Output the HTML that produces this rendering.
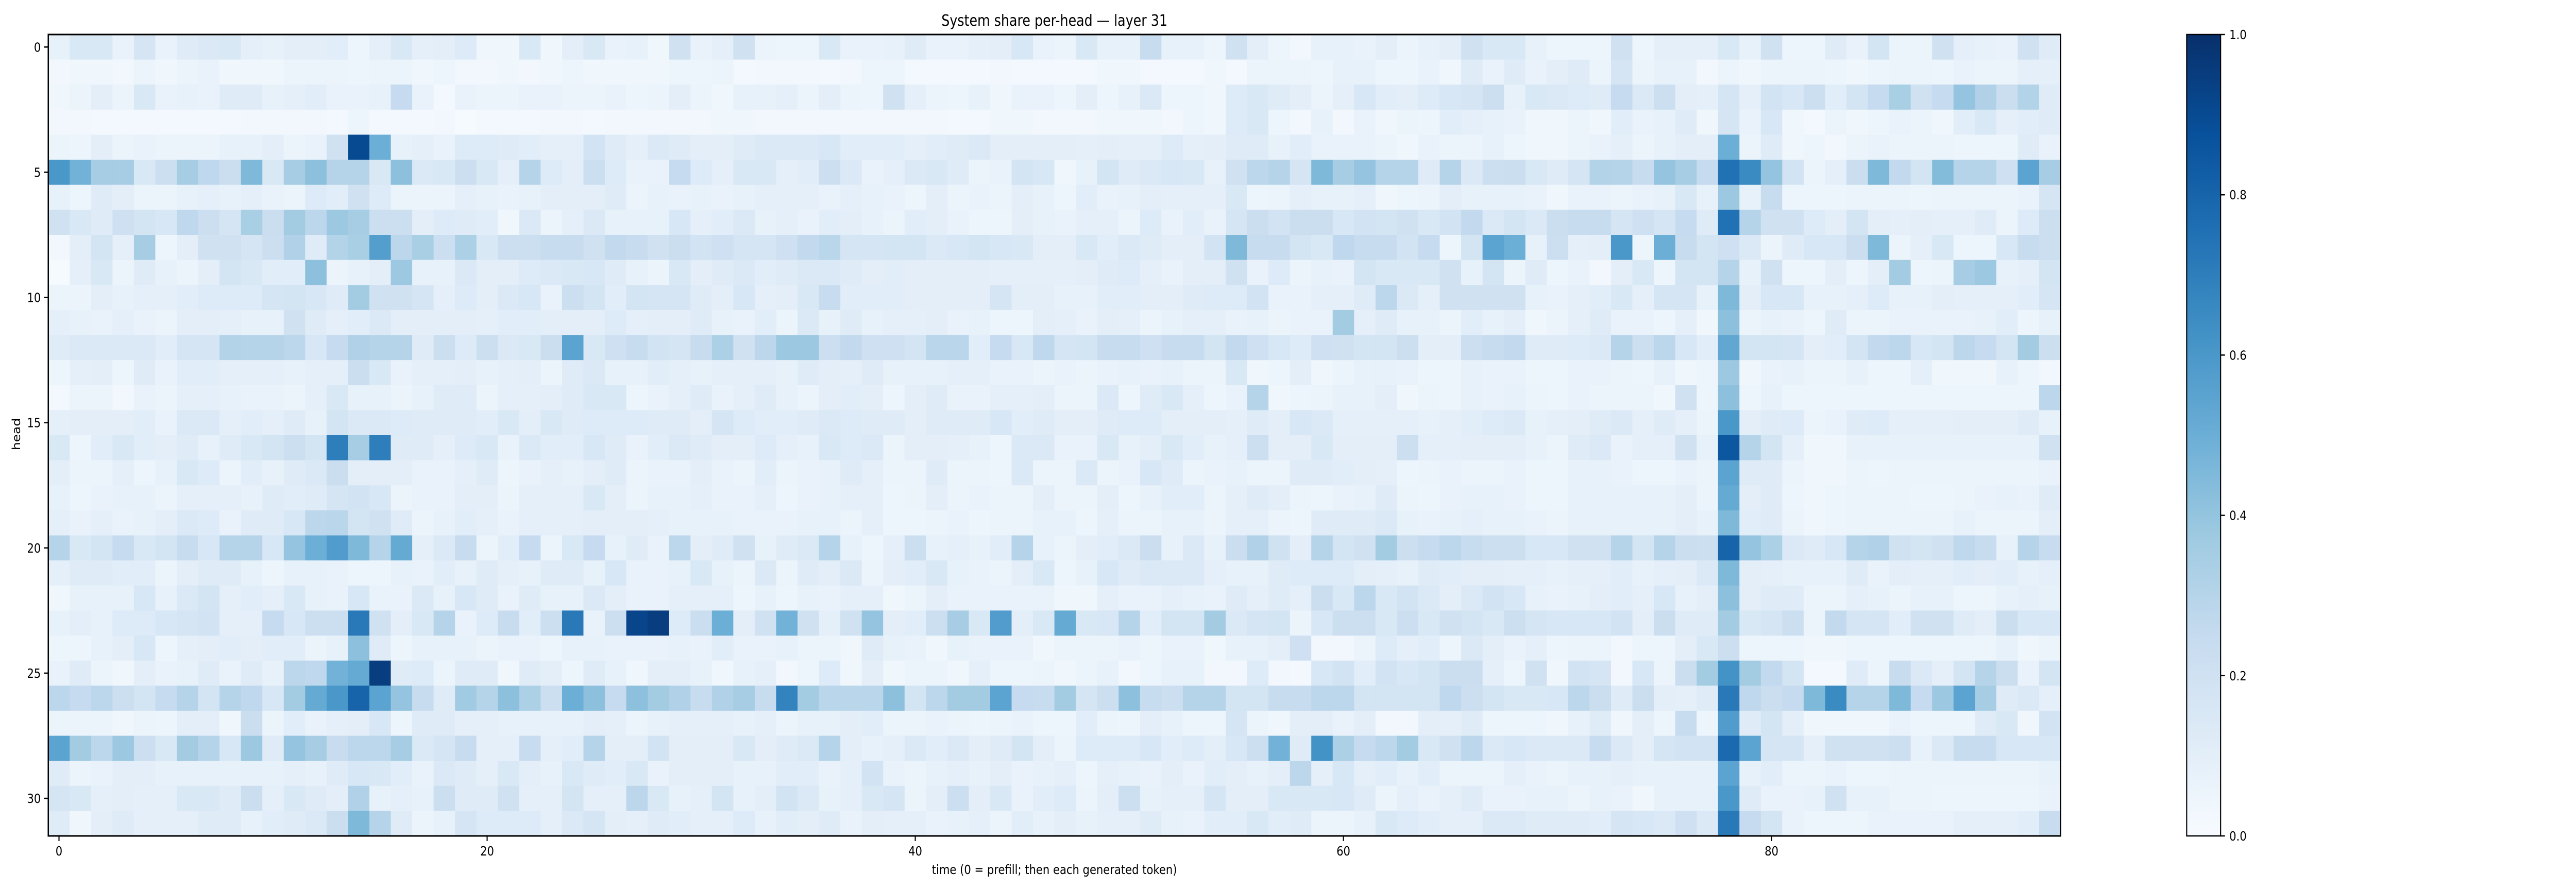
<!DOCTYPE html>
<html>
<head>
<meta charset="utf-8">
<style>
  html,body{margin:0;padding:0;background:#fff;width:100%;height:100%;overflow:hidden;}
  svg{display:block;width:100vw;height:100vh;font-family:"DejaVu Sans","Liberation Sans",sans-serif;}
</style>
</head>
<body>
<svg id="chart" viewBox="0 0 5922 1728" preserveAspectRatio="none" xmlns="http://www.w3.org/2000/svg">
  <defs>
    <linearGradient id="bluesGrad" x1="0" y1="1" x2="0" y2="0">
      <stop offset="0" stop-color="#f7fbff"/>
      <stop offset="0.125" stop-color="#deebf7"/>
      <stop offset="0.25" stop-color="#c6dbef"/>
      <stop offset="0.375" stop-color="#9ecae1"/>
      <stop offset="0.5" stop-color="#6baed6"/>
      <stop offset="0.625" stop-color="#4292c6"/>
      <stop offset="0.75" stop-color="#2171b5"/>
      <stop offset="0.875" stop-color="#08519c"/>
      <stop offset="1" stop-color="#08306b"/>
    </linearGradient>
  </defs>
  <text x="2424" y="50" text-anchor="middle" font-size="30" fill="#000">System share per-head — layer 31</text>
  <g id="cells"></g>
  <rect x="111" y="67" width="4626" height="1556" fill="none" stroke="#000" stroke-width="3"/>
  <g id="xaxis"></g>
  <g id="yaxis"></g>
  <text x="2424" y="1697" text-anchor="middle" font-size="25" fill="#000">time (0 = prefill; then each generated token)</text>
  <text transform="translate(46,843) rotate(-90)" text-anchor="middle" font-size="25" fill="#000">head</text>
  <rect x="5027" y="67" width="78" height="1556" fill="url(#bluesGrad)" stroke="#000" stroke-width="2.5"/>
  <g id="cbaxis"></g>
</svg>
<script>
// values in hundredths (0..100), one array per head row, columns = time 0..93
const head00 = [8,15,15,7,17,7,12,14,15,9,8,10,10,11,5,9,15,9,10,13,4,4,15,4,10,15,7,8,4,20,7,9, 20,6,5,5,15,7,7,8,12,7,7,9,10,16,7,6,15,8,8,24,8,8,5,20,10,5,3,8,8,7,10,6, 8,10,20,15,15,8,5,5,5,20,5,9,9,9,15,8,20,5,5,12,7,18,6,6,20,9,8,7,20,12];
const head01 = [3,4,4,3,6,4,6,7,4,4,4,6,6,6,5,6,6,4,5,3,3,4,3,4,5,4,4,4,4,5,5,6, 2,3,3,3,2,3,5,5,2,2,2,2,3,2,2,2,2,4,4,2,2,2,4,2,6,6,6,5,8,8,5,5, 7,4,12,7,12,7,10,12,6,17,6,8,8,3,6,4,6,6,6,5,4,5,6,6,5,7,6,6,9,9];
const head02 = [4,6,10,6,15,7,8,7,12,12,8,9,11,7,7,8,25,7,2,7,6,6,7,7,6,6,7,5,6,10,6,4, 8,8,9,6,10,6,5,20,9,6,5,8,4,7,7,5,10,5,8,14,5,5,4,13,15,12,10,6,9,16,11,10, 13,16,17,22,8,15,14,13,12,25,14,22,10,9,17,9,19,16,22,11,18,25,34,20,25,40,32,23,31,12];
const head03 = [3,3,2,2,2,2,2,2,2,3,3,3,3,2,5,2,2,2,3,1,2,2,2,3,3,2,3,3,3,3,3,4, 4,3,3,3,3,3,3,3,3,3,2,2,4,4,3,3,3,4,4,4,3,5,4,13,15,5,3,8,3,7,4,6, 5,11,9,8,7,4,4,6,4,11,7,8,12,4,17,7,16,4,2,6,4,5,7,6,4,11,15,9,11,12];
const head04 = [6,5,10,6,7,6,6,6,8,8,10,6,7,20,90,50,8,9,7,13,13,12,11,9,9,19,12,9,14,12,10,10, 12,14,14,14,16,11,11,11,9,11,12,14,10,10,10,10,9,10,9,9,13,9,10,12,12,8,11,7,7,7,6,4, 7,6,6,8,5,4,4,6,7,9,6,8,10,10,50,6,12,4,5,3,6,7,6,6,6,5,5,5,12,7];
const head05 = [60,48,35,35,15,22,35,27,23,45,15,35,42,30,30,15,42,14,15,22,15,9,30,13,10,22,13,7,7,25,13,9, 15,15,9,11,22,14,7,9,14,15,12,6,7,18,16,4,8,18,12,14,16,15,8,20,28,30,17,45,35,40,30,30, 12,30,14,22,23,15,12,17,31,30,24,40,35,25,75,65,40,19,6,9,23,45,26,18,44,30,30,21,55,35];
const head06 = [8,5,12,10,6,6,8,9,8,9,7,6,13,11,20,13,6,6,6,9,8,7,8,10,10,10,12,6,8,7,8,7, 8,9,9,9,7,9,8,7,5,10,6,7,6,10,8,5,11,7,8,10,9,9,9,15,5,6,9,8,8,9,4,5, 6,10,8,8,8,7,4,7,7,6,7,8,15,8,38,8,24,5,5,5,6,6,6,5,6,6,6,6,7,17];
const head07 = [20,15,12,21,18,16,27,22,17,34,23,36,28,38,35,22,22,10,13,12,11,4,14,6,9,14,8,8,8,16,9,11, 14,8,9,7,11,10,8,6,11,10,7,5,5,10,8,7,9,9,6,13,7,11,7,17,23,19,23,23,16,19,18,20, 15,19,26,14,18,14,23,24,24,17,21,17,25,12,75,30,20,20,13,10,18,10,9,10,9,9,12,6,13,22];
const head08 = [3,10,18,9,35,5,10,20,20,17,22,32,12,31,34,57,28,34,22,33,15,22,22,24,24,20,26,24,20,23,19,21, 17,17,21,26,29,17,17,18,18,14,16,18,16,15,10,10,15,11,14,12,10,10,19,45,24,24,18,15,27,24,24,19, 25,5,18,55,50,8,22,9,10,60,5,50,24,18,21,14,6,12,16,16,23,45,6,9,15,5,5,16,24,22];
const head09 = [1,9,15,6,12,8,6,10,18,15,11,11,42,6,8,10,38,8,8,14,10,10,13,14,15,16,12,8,6,15,10,12, 14,11,12,14,14,12,10,11,10,10,10,10,9,9,9,9,10,12,13,9,7,10,10,20,7,13,6,8,7,18,15,15, 15,20,8,18,6,12,5,7,3,10,15,5,18,18,30,8,20,5,5,10,5,10,36,5,6,35,38,8,9,18];
const head10 = [6,6,10,8,9,9,11,13,13,13,17,18,16,12,36,20,20,17,9,13,10,14,16,7,22,18,11,18,17,17,12,10, 16,9,10,15,24,11,11,11,10,10,10,10,17,10,10,8,8,11,11,10,10,12,13,13,19,7,7,9,9,12,28,14, 9,20,20,20,20,8,7,9,11,15,9,17,17,8,45,10,16,16,8,8,9,13,8,8,10,9,9,9,11,17];
const head11 = [9,8,7,9,7,6,10,10,9,8,8,20,12,9,11,14,10,10,10,10,9,11,11,10,10,10,13,9,10,10,12,8, 7,11,6,14,8,12,8,9,9,10,7,8,5,5,10,9,7,10,9,6,8,9,9,7,8,6,7,7,36,9,12,8, 8,6,11,8,10,4,6,9,12,7,7,5,9,4,42,6,8,7,5,12,6,6,7,7,7,7,8,11,5,8];
const head12 = [12,14,14,14,14,11,17,17,31,30,30,28,16,25,32,30,30,12,22,13,22,14,15,23,55,15,21,24,19,17,24,33, 20,28,38,38,22,26,21,21,18,29,29,11,25,16,27,17,18,24,24,21,24,24,18,26,21,16,13,21,20,18,18,22, 10,10,22,24,26,12,12,13,14,30,22,28,16,11,53,18,18,17,10,11,18,26,28,16,18,28,25,18,36,22];
const head13 = [5,9,10,5,12,7,11,11,9,9,9,8,9,9,23,15,7,9,9,10,8,9,10,6,12,14,8,8,11,9,8,9, 9,9,8,12,10,9,12,8,8,8,9,9,7,7,6,7,6,7,8,7,8,6,6,15,4,5,10,4,6,8,8,7, 5,5,8,7,7,5,5,7,7,6,5,8,4,5,38,4,7,8,6,6,8,5,5,9,4,4,4,8,5,3];
const head14 = [2,6,6,3,7,6,9,9,8,7,7,6,9,15,8,8,6,8,12,12,6,9,9,10,12,15,15,5,7,9,12,7, 9,12,8,6,10,11,10,5,10,12,7,7,9,9,10,6,6,14,5,12,15,9,5,7,30,4,5,6,8,8,10,4, 6,5,8,7,8,6,5,7,6,6,6,4,20,5,42,5,8,5,5,5,5,5,5,5,5,5,5,5,5,28];
const head15 = [9,10,10,10,11,7,14,14,9,11,9,12,8,18,14,14,13,12,12,12,11,15,10,15,12,13,13,13,12,12,10,17, 13,11,11,12,14,13,12,12,10,12,12,12,16,11,12,10,10,12,13,13,10,10,10,9,12,10,16,14,9,9,9,9, 8,9,11,13,14,8,9,10,12,14,9,12,9,6,60,10,12,13,6,7,12,13,9,9,9,10,10,10,12,8];
const head16 = [15,5,11,15,11,10,12,8,12,15,18,22,18,70,35,70,12,12,9,13,15,7,14,11,11,16,12,7,11,14,12,10, 10,13,9,8,15,13,14,6,10,10,9,8,5,14,14,7,7,15,8,10,15,11,8,9,22,10,10,15,10,10,10,22, 9,9,10,10,10,8,6,12,14,7,9,9,20,8,85,30,18,9,4,4,8,8,8,8,8,8,8,8,8,20];
const head17 = [10,6,6,9,5,8,15,13,6,11,8,12,14,23,10,10,10,7,7,9,12,5,7,9,8,10,12,6,7,7,10,7, 6,11,6,7,8,12,9,6,6,12,6,6,5,14,6,6,14,6,7,16,12,6,7,8,6,6,12,12,11,10,9,5, 6,7,6,6,7,5,5,8,8,7,5,5,7,6,55,12,12,6,4,4,6,5,6,6,6,6,6,6,6,7];
const head18 = [8,5,7,8,8,6,9,9,9,8,12,11,12,17,19,16,6,7,7,10,10,6,9,9,9,15,10,6,8,8,9,7, 7,9,5,7,8,9,9,5,6,10,6,7,6,6,10,6,6,10,5,8,11,11,6,9,12,10,6,5,7,8,12,6, 5,7,8,8,7,5,5,8,8,8,8,8,10,6,52,10,12,5,4,5,6,6,6,5,5,6,7,8,7,12];
const head19 = [9,7,9,7,8,10,14,13,7,12,12,16,28,29,18,20,12,6,8,11,9,7,9,9,9,10,10,10,9,8,8,8, 7,7,7,8,8,6,9,5,5,6,7,5,6,6,8,8,5,9,6,6,8,8,6,9,9,6,5,12,12,12,14,8, 7,8,9,8,8,7,6,8,8,8,8,8,10,8,45,11,12,6,4,5,6,6,6,6,6,8,6,6,6,10];
const head20 = [30,15,18,25,15,18,24,16,30,30,16,40,50,58,45,30,52,9,14,24,6,11,25,6,15,25,8,12,7,28,10,12, 20,8,12,14,30,8,5,9,22,8,9,8,11,30,8,6,10,11,14,23,8,14,8,23,32,20,10,30,18,20,36,22, 25,28,24,22,22,16,16,20,20,30,18,30,23,22,80,40,33,14,12,16,30,32,20,18,20,27,24,8,30,24];
const head21 = [9,12,12,11,11,6,10,12,12,8,5,8,8,7,5,5,8,7,11,8,12,9,8,12,12,8,16,7,7,8,15,8, 6,14,6,12,10,14,6,10,11,15,8,7,6,10,15,5,8,16,12,14,14,14,9,8,8,12,13,13,13,10,9,8, 12,11,10,10,9,9,8,9,9,11,8,9,10,14,45,10,9,8,8,8,12,7,10,9,9,11,10,11,8,9];
const head22 = [4,8,8,8,16,8,14,18,9,11,9,15,8,7,16,7,7,14,8,16,12,7,12,8,8,14,10,7,7,9,9,9, 5,8,5,8,7,9,9,4,6,10,7,7,7,7,7,4,4,9,7,7,9,8,7,12,9,12,9,23,15,28,15,19, 14,10,14,19,16,8,7,8,10,11,9,16,8,10,42,10,12,12,6,6,9,8,6,8,8,5,5,8,9,8];
const head23 = [8,10,8,13,13,16,17,19,9,9,25,16,22,22,72,20,10,15,30,7,13,24,11,22,72,7,22,92,95,13,23,50, 10,20,48,20,9,20,40,10,11,22,35,15,58,10,15,52,15,16,30,11,18,18,36,14,17,18,6,16,22,22,15,22, 15,20,18,15,22,17,16,16,16,19,10,23,12,12,36,15,17,22,6,26,17,17,11,20,20,12,10,23,16,16];
const head24 = [5,5,8,10,16,5,9,10,11,10,11,11,6,8,42,12,5,8,8,8,6,7,7,5,8,8,7,7,7,8,7,11, 7,7,8,6,6,4,12,8,7,4,8,7,7,7,4,6,6,6,7,5,7,7,4,8,8,10,21,3,3,6,13,9, 11,5,14,10,7,9,5,6,6,3,5,5,10,15,22,5,5,5,4,4,5,5,5,5,5,5,5,8,4,6];
const head25 = [7,12,6,4,10,7,8,12,7,12,8,28,27,48,52,95,12,13,6,12,12,4,12,10,5,12,8,4,10,10,8,4, 8,9,3,5,13,4,10,4,6,6,4,9,5,5,6,4,6,8,3,5,8,8,3,3,13,3,2,16,19,11,19,16, 18,23,23,9,5,20,4,19,17,3,16,6,23,36,62,36,26,18,2,2,12,6,24,14,9,18,30,23,7,18];
const head26 = [28,25,28,22,18,25,30,18,30,27,16,36,52,60,80,55,40,24,12,37,30,42,33,22,50,42,25,42,36,32,24,32, 35,24,68,36,29,29,29,42,18,28,36,36,55,25,24,36,17,22,42,24,22,30,30,18,18,24,24,28,28,18,18,18, 18,27,22,18,15,15,16,28,23,12,23,10,9,12,72,27,23,25,45,65,30,30,45,25,38,55,35,12,14,9];
const head27 = [6,6,6,4,6,5,10,10,4,23,6,11,7,9,10,16,5,12,12,9,9,8,8,8,8,10,9,6,8,9,9,9, 8,9,6,8,8,10,11,6,6,7,6,5,6,7,5,5,11,6,5,10,8,5,5,17,6,4,10,10,7,10,3,3, 10,9,12,5,5,5,4,8,12,4,10,5,24,5,58,12,18,10,4,4,4,4,7,5,5,5,12,15,4,19];
const head28 = [55,36,28,38,22,15,36,30,16,38,12,40,35,24,28,28,35,14,17,24,9,9,24,9,11,30,10,10,19,10,10,10, 15,10,12,14,30,10,8,9,14,11,14,10,12,18,10,6,13,13,13,16,11,13,10,16,22,48,12,62,33,25,28,36, 15,20,28,14,16,14,14,14,24,14,10,17,19,19,78,55,17,17,9,20,20,20,22,8,14,24,24,16,16,16];
const head29 = [12,6,7,10,10,8,8,8,8,8,8,9,8,12,16,15,11,7,14,12,9,15,10,8,15,12,11,15,7,10,10,10, 8,8,11,11,7,9,19,7,6,8,9,8,10,7,8,9,5,9,8,7,10,7,11,10,8,10,28,9,16,9,11,8, 11,6,6,6,9,7,6,8,8,9,8,8,8,8,55,8,11,6,6,7,5,5,6,6,6,6,6,6,6,8];
const head30 = [17,15,9,10,9,9,15,15,12,23,9,15,12,10,32,8,9,8,22,12,12,20,9,9,18,9,9,28,15,8,9,18, 8,10,19,14,8,9,15,17,6,10,22,10,15,7,11,13,6,10,22,8,9,9,17,10,10,15,15,15,16,12,6,9, 7,9,12,7,7,8,8,6,8,7,4,8,8,8,60,12,7,7,8,20,8,8,6,6,5,5,5,5,5,7];
const head31 = [12,4,10,12,9,9,9,12,12,8,11,12,14,23,45,30,12,6,8,17,13,13,13,9,14,17,10,9,12,11,9,9, 13,8,11,10,12,7,10,9,9,7,8,9,6,11,8,10,8,9,9,12,8,7,11,11,15,11,12,6,6,8,15,13, 11,9,9,14,14,12,12,12,11,17,16,14,21,14,72,25,18,7,5,5,5,7,7,7,7,9,9,9,11,24];

const headRows = [head00,head01,head02,head03,head04,head05,head06,head07,head08,head09,head10,head11,head12,head13,head14,head15,head16,head17,head18,head19,head20,head21,head22,head23,head24,head25,head26,head27,head28,head29,head30,head31];
const xTickValues = [0,20,40,60,80];
const yTickValues = [0,5,10,15,20,25,30];
const cbarTickValues = [0.0,0.2,0.4,0.6,0.8,1.0];
const nTime = 94;
const nHead = 32;

const PX0 = 111, PX1 = 4737, PY0 = 67, PY1 = 1623;
const CW = (PX1 - PX0) / nTime;
const RH = (PY1 - PY0) / nHead;
function xScale(t){ return PX0 + (t + 0.5) * CW; }
function yScale(h){ return PY0 + (h + 0.5) * RH; }
const CB_Y0 = 67, CB_Y1 = 1623, CB_X1 = 5105;
function cbScale(v){ return CB_Y1 - v * (CB_Y1 - CB_Y0); }

const bluesStops = ["#f7fbff","#deebf7","#c6dbef","#9ecae1","#6baed6","#4292c6","#2171b5","#08519c","#08306b"];
function hex2rgb(h){ return [parseInt(h.slice(1,3),16),parseInt(h.slice(3,5),16),parseInt(h.slice(5,7),16)]; }
function blues(v){
  v = Math.max(0, Math.min(1, v));
  const p = v * (bluesStops.length - 1);
  const i = Math.min(Math.floor(p), bluesStops.length - 2);
  const f = p - i;
  const a = hex2rgb(bluesStops[i]), b = hex2rgb(bluesStops[i+1]);
  return "rgb(" + a.map((c,k)=>Math.round(c + (b[k]-c)*f)).join(",") + ")";
}

const NS = "http://www.w3.org/2000/svg";
const cells = document.getElementById("cells");
headRows.forEach(function(row, h){
  row.forEach(function(val, t){
    const r = document.createElementNS(NS, "rect");
    
    
    r.setAttribute("x", (xScale(t) - CW/2).toFixed(2));
    r.setAttribute("y", (yScale(h) - RH/2).toFixed(2));
    r.setAttribute("width", (CW + 0.6).toFixed(2));
    r.setAttribute("height", (RH + 0.6).toFixed(2));
    r.setAttribute("fill", blues(val / 100));
    cells.appendChild(r);
  });
});

const xaxis = document.getElementById("xaxis");
xTickValues.forEach(function(t){
  const x = xScale(t);
  const ln = document.createElementNS(NS, "line");
  
  
  ln.setAttribute("x1", x); ln.setAttribute("x2", x);
  ln.setAttribute("y1", PY1); ln.setAttribute("y2", PY1 + 10);
  ln.setAttribute("stroke", "#000"); ln.setAttribute("stroke-width", "2.5");
  xaxis.appendChild(ln);
  const tx = document.createElementNS(NS, "text");
  
  
  tx.setAttribute("x", x); tx.setAttribute("y", 1661);
  tx.setAttribute("text-anchor", "middle"); tx.setAttribute("font-size", "25");
  tx.textContent = String(t);
  xaxis.appendChild(tx);
});

const yaxis = document.getElementById("yaxis");
yTickValues.forEach(function(h){
  const y = yScale(h);
  const ln = document.createElementNS(NS, "line");
  
  
  ln.setAttribute("x1", PX0 - 10); ln.setAttribute("x2", PX0);
  ln.setAttribute("y1", y); ln.setAttribute("y2", y);
  ln.setAttribute("stroke", "#000"); ln.setAttribute("stroke-width", "2.5");
  yaxis.appendChild(ln);
  const tx = document.createElementNS(NS, "text");
  
  
  tx.setAttribute("x", PX0 - 17); tx.setAttribute("y", y + 9);
  tx.setAttribute("text-anchor", "end"); tx.setAttribute("font-size", "25");
  tx.textContent = String(h);
  yaxis.appendChild(tx);
});

const cbaxis = document.getElementById("cbaxis");
cbarTickValues.forEach(function(v){
  const y = cbScale(v);
  const ln = document.createElementNS(NS, "line");
  
  
  ln.setAttribute("x1", CB_X1); ln.setAttribute("x2", CB_X1 + 10);
  ln.setAttribute("y1", y); ln.setAttribute("y2", y);
  ln.setAttribute("stroke", "#000"); ln.setAttribute("stroke-width", "2.5");
  cbaxis.appendChild(ln);
  const tx = document.createElementNS(NS, "text");
  
  
  tx.setAttribute("x", CB_X1 + 20); tx.setAttribute("y", y + 9);
  tx.setAttribute("font-size", "25");
  tx.textContent = v.toFixed(1);
  cbaxis.appendChild(tx);
});
</script>
</body>
</html>
